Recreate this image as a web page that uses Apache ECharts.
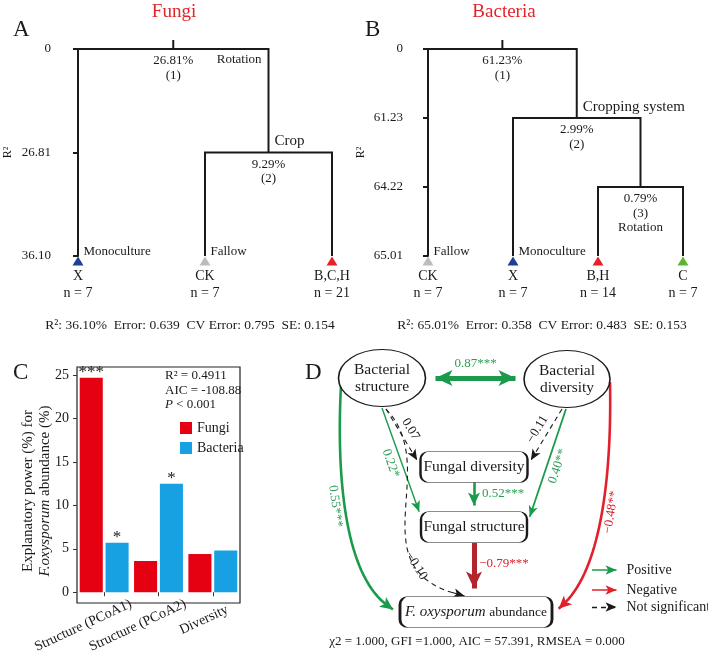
<!DOCTYPE html>
<html>
<head>
<meta charset="utf-8">
<title>Regression trees, explanatory power and SEM</title>
<script src="https://cdn.jsdelivr.net/npm/echarts@6.0.0/dist/echarts.min.js"></script>
<style>
html, body { margin: 0; padding: 0; background: #fff; }
#chart { width: 708px; height: 654px; }
</style>
</head>
<body>
<div id="chart"></div>
<script>
// ===================== DATA =====================
// Panel A - multivariate regression tree, fungi
const fungiLeaves = ['X', 'CK', 'B,C,H'];
const fungiLeafN = [7, 7, 21];
const fungiLeafGroups = ['Monoculture', 'Fallow', ''];
const fungiTicks = ['0', '26.81', '36.10'];
const fungiSplitVars = ['Cropping system', 'Crop'];
const fungiSplitPct = ['26.81%', '9.29%'];
const fungiSplitChildren = [['L0', 'S1'], ['L1', 'L2']];
const fungiBranchNotes = ['Rotation', ''];
const fungiStats = ['36.10%', '0.639', '0.795', '0.154'];

// Panel B - multivariate regression tree, bacteria
const bacteriaLeaves = ['CK', 'X', 'B,H', 'C'];
const bacteriaLeafN = [7, 7, 14, 7];
const bacteriaLeafGroups = ['Fallow', 'Monoculture', '', ''];
const bacteriaTicks = ['0', '61.23', '64.22', '65.01'];
const bacteriaSplitVars = ['Crop', 'Cropping system', ''];
const bacteriaSplitPct = ['61.23%', '2.99%', '0.79%'];
const bacteriaSplitChildren = [['L0', 'S1'], ['L1', 'S2'], ['L2', 'L3']];
const bacteriaSplitNotes = ['', '', 'Rotation'];
const bacteriaStats = ['65.01%', '0.358', '0.483', '0.153'];

// Panel C - explanatory power for F. oxysporum abundance
const cCategories = ['Structure (PCoA1)', 'Structure (PCoA2)', 'Diversity'];
const cFungi = [24.7, 3.6, 4.4];
const cBacteria = [5.7, 12.5, 4.8];
const cSigFungi = ['***', '', ''];
const cSigBacteria = ['*', '*', ''];
const cYTicks = [0, 5, 10, 15, 20, 25];
const cFit = ['0.4911', '-108.88', '< 0.001'];

// Panel D - structural equation model
const dNodes = ['Bacterial\nstructure', 'Bacterial\ndiversity', 'Fungal diversity', 'Fungal structure', 'F. oxysporum abundance'];
const dPathFrom = [0, 0, 0, 1, 1, 2, 3, 0, 1, 0];
const dPathTo = [1, 3, 2, 2, 3, 3, 4, 4, 4, 4];
const dPathCoef = [0.87, 0.22, 0.07, -0.11, 0.40, 0.52, -0.79, 0.55, -0.48, -0.10];
const dPathSig = ['***', '*', '', '', '**', '***', '***', '***', '**', ''];
const dLegend = ['Positive', 'Negative', 'Not significant'];
const dFit = ['1.000', '1.000', '57.391', '0.000'];

// ===================== STYLE / LAYOUT =====================
const SERIF = '"Liberation Serif", "Times New Roman", serif';
const INK = '#1a1a1a';
const GREEN = '#1a9b4b', GREEN_TXT = '#2e9d54', RED = '#e2202b', DARK_RED = '#b3242b';
const BAR_RED = '#e50012', BAR_BLUE = '#17a1e3', TITLE_RED = '#e3242b';
const leafColor = { 'X': '#1e3f98', 'CK': '#bcbcbc', 'B,C,H': '#e8202a', 'B,H': '#e8202a', 'C': '#5cb531' };
const CLEAR = { color: 'rgba(0,0,0,0)', opacity: 1 };
const txt = (size, extra) => Object.assign({ fontFamily: SERIF, fontSize: size, color: INK }, extra || {});

// panel D layout, in panel-local pixels (panel D grid spans 330..708 x 330..654)
const dNodeXY = [[52, 48], [237, 49], [144, 137], [144, 197], [146, 282]];
const dNodeShape = [['ellipse', [87, 57]], ['ellipse', [86, 57]], ['box', [107, 31]], ['box', [106, 31]], ['box', [152, 31]]];
const dEdgeGeom = [
  { a: [97, 48], b: [194, 48], both: true, side: 'Top', dist: 8 },
  { a: [52, 78], b: [91, 187], side: 'Bottom', dist: 4 },
  { a: [56, 79], b: [90, 135], side: 'Top', dist: 4 },
  { a: [232, 79], b: [198, 135], side: 'Top', dist: 4 },
  { a: [236, 79], b: [198, 192], side: 'Bottom', dist: 4 },
  { a: [144, 152], b: [144, 182], text: [173, 164] },
  { a: [144, 213], b: [144, 267], text: [174, 234] },
  { a: [11, 55], b: [69, 282], cubic: [[6, 150], [15, 260]], lab: { t: 0.42, side: 1, dist: 9 } },
  { a: [280, 52], b: [223, 282], cubic: [[282, 150], [270, 255]], lab: { t: 0.45, side: -1, dist: 9 } },
  { a: [56, 79], b: [140, 267], cubic: [[115, 140], [20, 245]], lab: { t: 0.75, side: -1, dist: 2 } }
];
const dLegendY = [240, 260, 277];

// ===================== HELPERS =====================
function treeLayout(children) {
  const depth = children.length;
  const pos = {};
  const place = id => {
    if (pos[id]) return pos[id];
    const k = +id.slice(1);
    if (id[0] === 'L') return (pos[id] = [k, depth]);
    const l = place(children[k][0]), r = place(children[k][1]);
    return (pos[id] = [(l[0] + r[0]) / 2, k]);
  };
  place('S0');
  return pos;
}

function buildTree(ix, t, stubPx, heightPx) {
  const depth = t.children.length;
  const pos = treeLayout(t.children);
  const stub = stubPx * depth / heightPx;
  const root = pos.S0;
  const base = { xAxisIndex: ix, yAxisIndex: ix, silent: true };
  const out = [];
  const paths = t.children.map((c, k) => {
    const l = pos[c[0]], r = pos[c[1]];
    return { coords: [l, [l[0], k], [r[0], k], r] };
  });
  paths.push({ coords: [[root[0], 0], [root[0], -stub]] });
  out.push(Object.assign({
    type: 'lines', coordinateSystem: 'cartesian2d', polyline: true, clip: false, symbol: 'none', z: 2,
    lineStyle: { color: INK, width: 2, opacity: 1, join: 'miter' }, data: paths
  }, base));
  out.push(Object.assign({
    type: 'scatter', symbol: 'triangle', symbolSize: [11, 9], symbolOffset: [0, 5], z: 3,
    itemStyle: { opacity: 1 },
    data: t.leaves.map((name, i) => ({ value: [i, depth], itemStyle: { color: leafColor[name] } })),
    label: {
      show: true, position: 'bottom', distance: 2,
      formatter: p => `{a|${t.leaves[p.dataIndex]}}\n{a|n = ${t.n[p.dataIndex]}}`,
      rich: { a: txt(14, { lineHeight: 17 }) }
    }
  }, base));
  out.push(Object.assign({
    type: 'scatter', symbolSize: 1, itemStyle: CLEAR, z: 3,
    data: t.groups.map((g, i) => ({ value: [i, depth], name: g })),
    label: { show: true, position: 'right', distance: 5, offset: [0, -4], formatter: '{b}', ...txt(13) }
  }, base));
  out.push(Object.assign({
    type: 'scatter', symbolSize: 1, itemStyle: CLEAR, z: 3,
    data: t.pct.map((p, k) => ({
      value: pos['S' + k],
      name: [p, `(${k + 1})`].concat(t.notes && t.notes[k] ? [t.notes[k]] : []).join('\n')
    })),
    label: { show: true, position: 'bottom', distance: 4, formatter: '{b}', ...txt(13), lineHeight: 14.5 }
  }, base));
  out.push(Object.assign({
    type: 'scatter', symbolSize: 1, itemStyle: CLEAR, z: 3,
    data: t.vars.map((v, k) => k === 0
      ? { value: [root[0], -stub], name: v, label: { distance: 4 } }
      : { value: pos['S' + k], name: v, label: { align: 'left', offset: [6, 0] } }),
    label: { show: true, position: 'top', distance: 3, formatter: '{b}', ...txt(15) }
  }, base));
  if (t.branchNotes) {
    out.push(Object.assign({
      type: 'scatter', symbolSize: 1, itemStyle: CLEAR, z: 3,
      data: t.branchNotes.map((n, k) => ({ value: [pos[t.children[k][1]][0], k], name: n })),
      label: { show: true, position: 'bottom', distance: 4, align: 'right', offset: [-7, 0], formatter: '{b}', ...txt(13) }
    }, base));
  }
  return out;
}

function treeAxes(ix, ticks, nLeaves, offset, nameGap) {
  return {
    x: { gridIndex: ix, type: 'value', min: 0, max: nLeaves - 1, show: false },
    y: {
      gridIndex: ix, type: 'value', min: 0, max: ticks.length - 1, interval: 1, inverse: true, offset,
      axisLine: { show: true, lineStyle: { color: INK, width: 2 } },
      axisTick: { show: true, length: 5, lineStyle: { color: INK, width: 2 } },
      axisLabel: { formatter: v => (ticks[v] !== undefined ? ticks[v] : ''), ...txt(13), margin: 10 },
      splitLine: { show: false },
      name: 'R²', nameLocation: 'middle', nameGap, nameTextStyle: txt(12)
    }
  };
}

const measure = (() => {
  const ctx = document.createElement('canvas').getContext('2d');
  return (s, font) => { ctx.font = font; return ctx.measureText(s).width; };
})();

const pullBack = (p, from, d) => {
  const dx = p[0] - from[0], dy = p[1] - from[1], L = Math.hypot(dx, dy) || 1;
  return [p[0] - dx / L * d, p[1] - dy / L * d];
};
const cubicAt = (P, t) => {
  const u = 1 - t, w = [u * u * u, 3 * u * u * t, 3 * u * t * t, t * t * t];
  return [0, 1].map(k => w[0] * P[0][k] + w[1] * P[1][k] + w[2] * P[2][k] + w[3] * P[3][k]);
};
const cubicTan = (P, t) => {
  const u = 1 - t;
  return [0, 1].map(k => 3 * u * u * (P[1][k] - P[0][k]) + 6 * u * t * (P[2][k] - P[1][k]) + 3 * t * t * (P[3][k] - P[2][k]));
};
const roundRectSymbol = (w, h, r) =>
  `path://M${r},0H${w - r}A${r},${r} 0 0 1 ${w},${r}V${h - r}A${r},${r} 0 0 1 ${w - r},${h}` +
  `H${r}A${r},${r} 0 0 1 0,${h - r}V${r}A${r},${r} 0 0 1 ${r},0Z`;

function edgeStyle(coef, sig) {
  const m = Math.abs(coef);
  const width = !sig ? 1.1 : m >= 0.75 ? 5 : m >= 0.45 ? 2.6 : m >= 0.3 ? 1.8 : 1.4;
  return {
    width,
    dash: !sig,
    color: !sig ? INK : coef > 0 ? GREEN : (m >= 0.75 ? DARK_RED : RED),
    textColor: !sig ? INK : coef > 0 ? GREEN_TXT : RED,
    head: width >= 5 ? [12, 17] : width >= 2.5 ? [9, 13] : [7, 11]
  };
}
const coefText = (c, s) => (c < 0 ? '\u2212' : '') + Math.abs(c).toFixed(2) + s;

// ===================== SERIES =====================
const series = [];

series.push(...buildTree(0, {
  leaves: fungiLeaves, n: fungiLeafN, groups: fungiLeafGroups, vars: fungiSplitVars,
  pct: fungiSplitPct, children: fungiSplitChildren, branchNotes: fungiBranchNotes
}, 9, 207));
series.push(...buildTree(1, {
  leaves: bacteriaLeaves, n: bacteriaLeafN, groups: bacteriaLeafGroups, vars: bacteriaSplitVars,
  pct: bacteriaSplitPct, children: bacteriaSplitChildren, notes: bacteriaSplitNotes
}, 9, 207));

// Panel C bars
const sigLabel = arr => ({
  show: true, position: 'top', distance: -3, formatter: p => arr[p.dataIndex],
  fontFamily: SERIF, fontSize: 17, color: INK
});
series.push({
  type: 'bar', name: 'Fungi', xAxisIndex: 2, yAxisIndex: 2, data: cFungi,
  barGap: '12%', barCategoryGap: '10%', itemStyle: { color: BAR_RED }, label: sigLabel(cSigFungi), silent: true
});
series.push({
  type: 'bar', name: 'Bacteria', xAxisIndex: 2, yAxisIndex: 2, data: cBacteria,
  barGap: '12%', barCategoryGap: '10%', itemStyle: { color: BAR_BLUE }, label: sigLabel(cSigBacteria), silent: true
});

// Panel D nodes
series.push({
  type: 'scatter', xAxisIndex: 3, yAxisIndex: 3, z: 5, silent: true,
  data: dNodes.map((n, i) => {
    const [kind, size] = dNodeShape[i];
    return {
      value: dNodeXY[i], name: n, symbolSize: size,
      symbol: kind === 'ellipse' ? 'circle' : roundRectSymbol(size[0], size[1], 8)
    };
  }),
  itemStyle: { color: '#fff', borderColor: INK, borderWidth: 1.3, opacity: 1 },
  label: {
    show: true, position: 'inside', ...txt(15.5), lineHeight: 17,
    formatter: p => p.name.indexOf('oxysporum') >= 0 ? '{i|F. oxysporum} {n|abundance}' : p.name,
    rich: { i: txt(15, { fontStyle: 'italic' }), n: txt(13.5) }
  }
});

// Panel D paths
const dBase = { coordinateSystem: 'cartesian2d', xAxisIndex: 3, yAxisIndex: 3, z: 4, silent: true };
const textMark = (pos, rot, label, color) => ({
  type: 'scatter', xAxisIndex: 3, yAxisIndex: 3, z: 6, silent: true, symbolSize: 1, itemStyle: CLEAR,
  data: [{ value: pos }],
  label: { show: true, position: 'inside', rotate: rot, formatter: label, color, fontFamily: SERIF, fontSize: 13 }
});

dPathFrom.forEach((from, i) => {
  const g = dEdgeGeom[i];
  const st = edgeStyle(dPathCoef[i], dPathSig[i]);
  const label = coefText(dPathCoef[i], dPathSig[i]);
  const lineStyle = { color: st.color, width: st.width, type: st.dash ? [5, 4] : 'solid', opacity: 1 };
  const name = dNodes[from] + ' -> ' + dNodes[dPathTo[i]];
  if (g.cubic) {
    const P = [g.a, g.cubic[0], g.cubic[1], g.b];
    const tA = 0.93, pts = [];
    for (let k = 0; k <= 36; k++) pts.push(cubicAt(P, tA * k / 36));
    const tip = pullBack(g.b, g.cubic[1], st.head[1] / 2);
    series.push(Object.assign({ type: 'lines', name, polyline: true, lineStyle, data: [{ coords: pts }] }, dBase));
    series.push(Object.assign({
      type: 'lines', name, symbol: ['none', 'arrow'], symbolSize: [st.head, st.head],
      lineStyle: Object.assign({}, lineStyle, { type: 'solid' }), data: [{ coords: [pts[pts.length - 1], tip] }]
    }, dBase));
    const p = cubicAt(P, g.lab.t), tg = cubicTan(P, g.lab.t), L = Math.hypot(tg[0], tg[1]);
    const n = [-tg[1] / L * g.lab.side, tg[0] / L * g.lab.side];
    let rot = -Math.atan2(tg[1], tg[0]) * 180 / Math.PI;
    if (tg[0] < 0) rot += 180;
    series.push(textMark([p[0] + n[0] * g.lab.dist, p[1] + n[1] * g.lab.dist], rot, label, st.textColor));
    return;
  }
  let a = g.a.slice(), b = g.b.slice();
  b = pullBack(b, a, st.head[1] / 2);
  if (g.both) a = pullBack(a, b, st.head[1] / 2);
  series.push(Object.assign({
    type: 'lines', name,
    symbol: g.both ? ['arrow', 'arrow'] : ['none', 'arrow'],
    symbolSize: [st.head, st.head],
    lineStyle,
    label: g.side
      ? { show: true, position: 'insideMiddle' + g.side, distance: g.dist, formatter: label, color: st.textColor, fontFamily: SERIF, fontSize: 13 }
      : { show: false },
    data: [{ coords: [a, b] }]
  }, dBase));
  if (g.text) series.push(textMark(g.text, 0, label, st.textColor));
});

// Panel D legend
const legendStyles = [edgeStyle(0.3, '*'), edgeStyle(-0.3, '*'), edgeStyle(0.1, '')];
dLegend.forEach((name, i) => {
  const st = legendStyles[i];
  const head = [7, 11];
  series.push(Object.assign({
    type: 'lines', symbol: ['none', 'arrow'], symbolSize: [head, head],
    lineStyle: { color: st.color, width: st.dash ? 1.3 : 1.6, type: st.dash ? [5, 4] : 'solid', opacity: 1 },
    label: { show: true, position: 'end', distance: 10, formatter: name, ...txt(14) },
    data: [{ coords: [[262, dLegendY[i]], [292 - head[1] / 2, dLegendY[i]]] }]
  }, dBase));
});

// Panel C x labels: emulate ggplot hjust ~0.75 for rotated text
const cRich = { t: txt(14) };
cCategories.forEach((s, i) => { cRich['p' + i] = { width: 0.5 * measure(s, '14px ' + SERIF), fontSize: 14 }; });

// ===================== GRAPHIC TEXT =====================
const T = (text, x, y, size, o = {}) => ({
  type: 'text', x, y, silent: true, rotation: o.rotation || 0,
  style: Object.assign({
    text, fontFamily: SERIF, fontSize: size, fill: o.fill || INK,
    align: o.align || 'center', verticalAlign: 'middle',
    textAlign: o.align || 'center', textVerticalAlign: 'middle'
  }, o.style || {})
});
const statLine = s => `R²: ${s[0]}  Error: ${s[1]}  CV Error: ${s[2]}  SE: ${s[3]}`;

const graphics = [
  T('A', 13, 30, 23, { align: 'left' }),
  T('B', 365, 30, 23, { align: 'left' }),
  T('C', 13, 373, 23, { align: 'left' }),
  T('D', 305, 373, 23, { align: 'left' }),
  T('Fungi', 174, 12, 19, { fill: TITLE_RED }),
  T('Bacteria', 504, 12, 19, { fill: TITLE_RED }),
  T(statLine(fungiStats), 190, 325, 13.5),
  T(statLine(bacteriaStats), 542, 325, 13.5),
  T('R² = ' + cFit[0], 165, 376, 13, { align: 'left' }),
  T('AIC = ' + cFit[1], 165, 391, 13, { align: 'left' }),
  T('{i|P} ' + cFit[2], 165, 405, 13, { align: 'left', style: { rich: { i: { fontFamily: SERIF, fontSize: 13, fontStyle: 'italic', fill: INK } } } }),
  T('{a|Explanatory power (%) for}\n{i|F.oxysporum}{a| abundance (%)}', 37, 491, 15, {
    rotation: Math.PI / 2,
    style: { rich: {
      a: { fontFamily: SERIF, fontSize: 15, fill: INK, lineHeight: 17 },
      i: { fontFamily: SERIF, fontSize: 15, fontStyle: 'italic', fill: INK, lineHeight: 17 }
    } }
  }),
  T(`\u03c72 = ${dFit[0]}, GFI =${dFit[1]}, AIC = ${dFit[2]}, RMSEA = ${dFit[3]}`, 477, 642, 13)
];

// ===================== OPTION =====================
const axA = treeAxes(0, fungiTicks, fungiLeaves.length, 17, 47);
const axB = treeAxes(1, bacteriaTicks, bacteriaLeaves.length, 15, 46);

const option = {
  animation: false,
  backgroundColor: '#fff',
  textStyle: { fontFamily: SERIF },
  grid: [
    { left: 78, top: 49, width: 254, height: 207, outerBoundsMode: 'none' },
    { left: 428, top: 49, width: 255, height: 207, outerBoundsMode: 'none' },
    { left: 77, top: 367, width: 163, height: 236, show: true, borderColor: '#222', borderWidth: 1.2, backgroundColor: 'rgba(0,0,0,0)', outerBoundsMode: 'none' },
    { left: 330, top: 330, width: 378, height: 324, outerBoundsMode: 'none' }
  ],
  xAxis: [
    axA.x, axB.x,
    {
      gridIndex: 2, type: 'category', data: cCategories,
      axisLine: { show: false },
      axisTick: { show: true, alignWithLabel: true, length: 4, lineStyle: { color: '#333' } },
      axisLabel: {
        interval: 0, rotate: 25, align: 'center', verticalAlign: 'top', margin: 5,
        formatter: (v, i) => `{t|${v}}{p${i}| }`, rich: cRich, ...txt(14)
      },
      splitLine: { show: false }
    },
    { gridIndex: 3, type: 'value', min: 0, max: 378, show: false }
  ],
  yAxis: [
    axA.y, axB.y,
    {
      gridIndex: 2, type: 'value', min: -1.24, max: 25.94,
      axisLine: { show: false },
      axisTick: { show: true, length: 4, customValues: cYTicks, lineStyle: { color: '#333' } },
      axisLabel: { customValues: cYTicks, ...txt(14), margin: 8 },
      splitLine: { show: false }
    },
    { gridIndex: 3, type: 'value', min: 0, max: 324, inverse: true, show: false }
  ],
  legend: {
    data: ['Fungi', 'Bacteria'], orient: 'vertical', left: 180, top: 421,
    itemWidth: 12, itemHeight: 12, itemGap: 6, icon: 'rect', selectedMode: false,
    textStyle: txt(14), padding: 0
  },
  graphic: graphics,
  series
};

const chart = echarts.init(document.getElementById('chart'));
chart.setOption(option);
</script>
</body>
</html>
